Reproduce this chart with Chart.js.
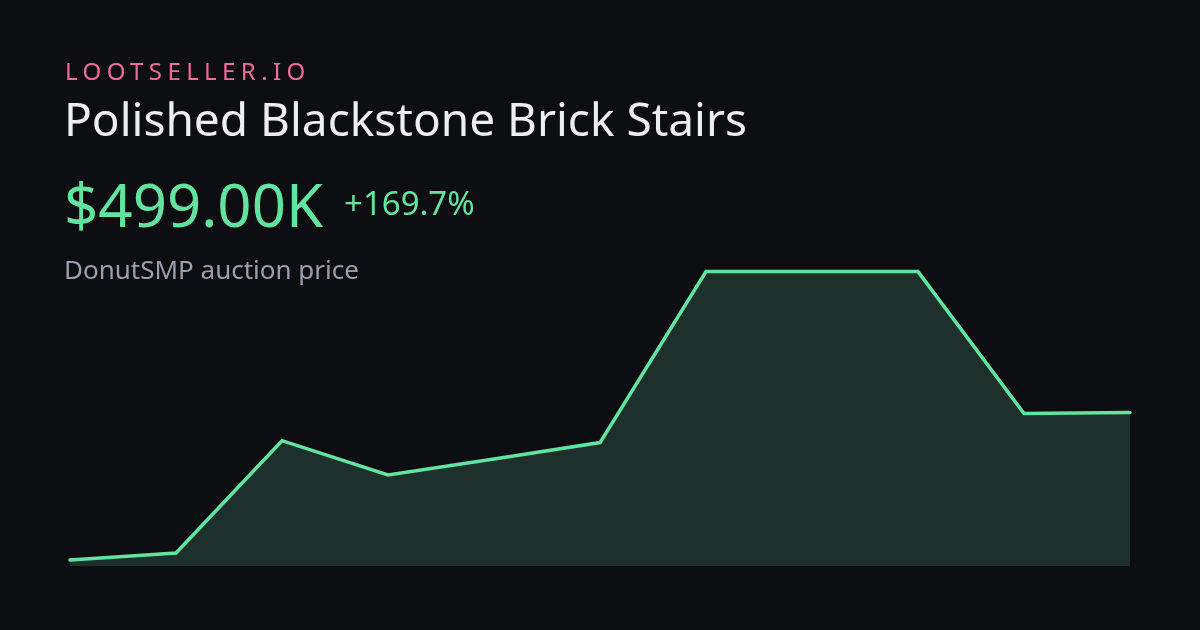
<!DOCTYPE html>
<html>
<head>
<meta charset="utf-8">
<script src="https://cdn.jsdelivr.net/npm/chart.js@4"></script>
<style>
  html, body { margin:0; padding:0; background:#0d0e12; }
  #wrap { position:relative; width:1200px; height:630px; overflow:hidden; background:#0d0e12; font-family:"Noto Sans", sans-serif; }
  .t { position:absolute; line-height:1; white-space:nowrap; }
  #brand { left:65px; top:59px; font-size:24px; letter-spacing:5.4px; color:#ee6c9e; }
  #title { left:64px; top:95px; font-size:46px; color:#eceef2; }
  #price { left:64px; top:174px; font-size:60px; color:#62e3a0; }
  #pct { left:344px; top:186px; font-size:33px; color:#62e3a0; }
  #sub { left:64px; top:256px; font-size:26px; color:#9a9eae; }
  #c { position:absolute; left:0; top:0; }
</style>
</head>
<body>
<div id="wrap">
  <canvas id="c" width="1200" height="630"></canvas>
  <div class="t" id="brand">LOOTSELLER.IO</div>
  <div class="t" id="title">Polished Blackstone Brick Stairs</div>
  <div class="t" id="price">$499.00K</div>
  <div class="t" id="pct">+169.7%</div>
  <div class="t" id="sub">DonutSMP auction price</div>
</div>
<script>
const labels = ["1","2","3","4","5","6","7","8","9","10","11"];
const prices = [185, 200, 439, 366, 400, 435, 799, 799, 799, 497, 499]; // thousands
const yMin = 172.2;
const yMax = 810.9;

new Chart(document.getElementById('c'), {
  type: 'line',
  data: {
    labels: labels,
    datasets: [{
      data: prices,
      borderColor: '#62e3a0',
      borderWidth: 3.5,
      backgroundColor: '#1e302b',
      fill: 'start',
      pointRadius: 0,
      tension: 0,
      clip: false,
      borderJoinStyle: 'miter',
      borderCapStyle: 'round'
    }]
  },
  options: {
    responsive: false,
    animation: false,
    devicePixelRatio: 1,
    layout: { padding: { left: 70, right: 70, top: 266, bottom: 64 } },
    plugins: { legend: { display: false }, tooltip: { enabled: false } },
    scales: {
      x: { display: false, offset: false },
      y: { display: false, min: yMin, max: yMax }
    }
  }
});
</script>
</body>
</html>
